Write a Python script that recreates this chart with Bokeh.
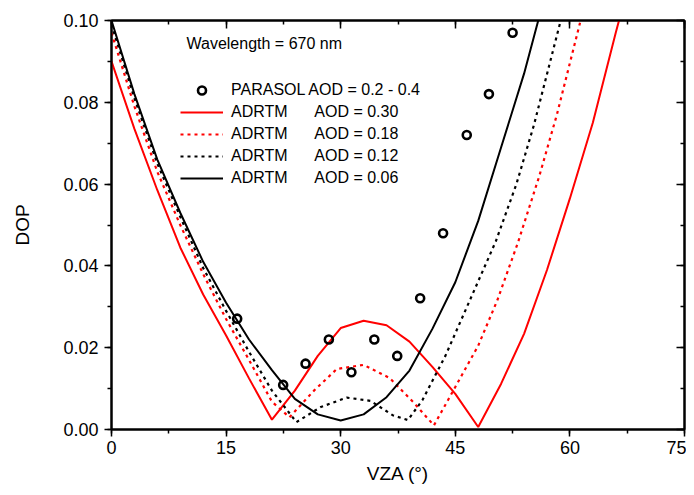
from bokeh.plotting import figure
from bokeh.models import (Range1d, LinearAxis, SingleIntervalTicker, PrintfTickFormatter,
                          Legend, LegendItem, Label, CustomJSTickFormatter)
from bokeh.embed import file_html
from bokeh.resources import INLINE

# ---- data ----
red_solid_x = [0, 3, 6, 9, 12, 15, 18, 21, 24, 27, 30, 33, 36, 39, 42, 45, 48, 51, 54, 57, 60, 63, 66, 69]
red_solid_y = [0.090, 0.0735, 0.0585, 0.0445, 0.033, 0.023, 0.0125, 0.0024, 0.0095, 0.018, 0.0248, 0.0266,
               0.0255, 0.0215, 0.0153, 0.0087, 0.0006, 0.0112, 0.0234, 0.039, 0.0565, 0.075, 0.097, 0.118]

red_dot_x = [0, 3, 6, 9, 12, 15, 18, 21, 23.3, 26.5, 29.5, 33, 36.4, 39.6, 42.2, 45, 48, 50.5, 53.2, 56,
             58.3, 61.4, 64]
red_dot_y = [0.097, 0.079, 0.063, 0.050, 0.038, 0.027, 0.017, 0.0068, 0.003, 0.0095, 0.0148, 0.0158,
             0.0126, 0.0065, 0.001, 0.0104, 0.0205, 0.0316, 0.0457, 0.062, 0.077, 0.100, 0.117]

black_dot_x = [0, 3, 6, 9, 12, 15, 18, 21, 24.2, 27.4, 30.8, 33.9, 36.8, 38.8, 40.7, 43.7, 47, 50.3, 53,
               55.3, 58.8, 61]
black_dot_y = [0.099, 0.081, 0.065, 0.052, 0.0395, 0.029, 0.019, 0.0095, 0.0018, 0.0055, 0.0078, 0.007,
               0.0035, 0.0023, 0.0072, 0.018, 0.032, 0.046, 0.060, 0.0745, 0.100, 0.116]

black_solid_x = [0, 3, 6, 9, 12, 15, 18, 21, 24, 27, 30, 33, 36, 39, 42, 45, 48, 51, 54, 57]
black_solid_y = [0.100, 0.082, 0.066, 0.053, 0.041, 0.031, 0.022, 0.0145, 0.0075, 0.0037, 0.0022, 0.0037,
                 0.0079, 0.0144, 0.0246, 0.036, 0.051, 0.069, 0.087, 0.108]

parasol_x = [16.45, 22.47, 25.4, 28.45, 31.4, 34.4, 37.4, 40.4, 43.4, 46.5, 49.4, 52.5]
parasol_y = [0.0271, 0.0109, 0.0161, 0.0220, 0.0140, 0.0220, 0.0180, 0.0321, 0.048, 0.072, 0.082, 0.097]

x_ticks_interval = 15
y_ticks_interval = 0.02

legend_labels = ["PARASOL AOD = 0.2 - 0.4",
                 "ADRTM\u00a0\u00a0\u00a0\u00a0\u00a0\u00a0AOD = 0.30",
                 "ADRTM\u00a0\u00a0\u00a0\u00a0\u00a0\u00a0AOD = 0.18",
                 "ADRTM\u00a0\u00a0\u00a0\u00a0\u00a0\u00a0AOD = 0.12",
                 "ADRTM\u00a0\u00a0\u00a0\u00a0\u00a0\u00a0AOD = 0.06"]

FONT = "Liberation Sans"
RED = "#ff0000"

p = figure(width=686, height=487, output_backend="svg", toolbar_location=None,
           x_range=Range1d(0, 75), y_range=Range1d(0, 0.1),
           min_border_left=111, min_border_right=2, min_border_top=20, min_border_bottom=58)
p.grid.visible = False
p.outline_line_color = "black"
p.outline_line_width = 2
p.background_fill_color = "white"
p.border_fill_color = "white"

xt = SingleIntervalTicker(interval=x_ticks_interval, num_minor_ticks=2)
yt = SingleIntervalTicker(interval=y_ticks_interval, num_minor_ticks=2)

xa = p.xaxis[0]
xa.ticker = xt
xa.axis_label = "VZA (°)"
ya = p.yaxis[0]
ya.ticker = yt
ya.formatter = PrintfTickFormatter(format="%.2f")
ya.axis_label = "DOP"

for ax in (xa, ya):
    ax.axis_line_width = 2
    ax.axis_line_color = "black"
    ax.major_tick_line_width = 1.5
    ax.minor_tick_line_width = 1.5
    ax.major_tick_in = 0
    ax.major_tick_out = 7
    ax.minor_tick_in = 0
    ax.minor_tick_out = 4
    ax.major_label_text_font = FONT
    ax.major_label_text_font_size = "18px"
    ax.major_label_text_color = "black"
    ax.axis_label_text_font = FONT
    ax.axis_label_text_font_size = "19px"
    ax.axis_label_text_font_style = "normal"
    ax.axis_label_text_color = "black"
xa.major_label_standoff = 4
xa.axis_label_standoff = 6
ya.major_label_standoff = 6
ya.axis_label_standoff = 27

blank = CustomJSTickFormatter(code="return ''")
for loc in ("above", "right"):
    ax = LinearAxis(ticker=xt if loc == "above" else yt, formatter=blank,
                    major_label_standoff=0,
                    major_tick_in=8, major_tick_out=0, minor_tick_in=4, minor_tick_out=0,
                    axis_line_width=2, major_tick_line_width=1.5, minor_tick_line_width=1.5)
    p.add_layout(ax, loc)

r_red = p.line(red_solid_x, red_solid_y, line_color=RED, line_width=2)
r_reddot = p.line(red_dot_x, red_dot_y, line_color=RED, line_width=2.2, line_dash="3 4")
r_blkdot = p.line(black_dot_x, black_dot_y, line_color="black", line_width=2.2, line_dash="3 4")
r_blk = p.line(black_solid_x, black_solid_y, line_color="black", line_width=2)
r_par = p.scatter(parasol_x, parasol_y, marker="circle", size=8, fill_color=None,
                  line_color="black", line_width=2.6)

items = [LegendItem(label=legend_labels[0], renderers=[r_par]),
         LegendItem(label=legend_labels[1], renderers=[r_red]),
         LegendItem(label=legend_labels[2], renderers=[r_reddot]),
         LegendItem(label=legend_labels[3], renderers=[r_blkdot]),
         LegendItem(label=legend_labels[4], renderers=[r_blk])]
legend = Legend(items=items, location=(69, 241), padding=0, margin=0, spacing=2,
                glyph_width=43, glyph_height=20, label_height=20, label_standoff=8,
                label_text_font=FONT, label_text_font_size="16px", label_text_color="black",
                background_fill_alpha=0, border_line_alpha=0)
p.add_layout(legend, "center")

p.add_layout(Label(x=75, y=386, x_units="screen", y_units="screen", text="Wavelength = 670 nm",
                   text_font=FONT, text_font_size="16px", text_baseline="middle", text_color="black"))

open("out.html", "w").write(file_html(p, INLINE))
